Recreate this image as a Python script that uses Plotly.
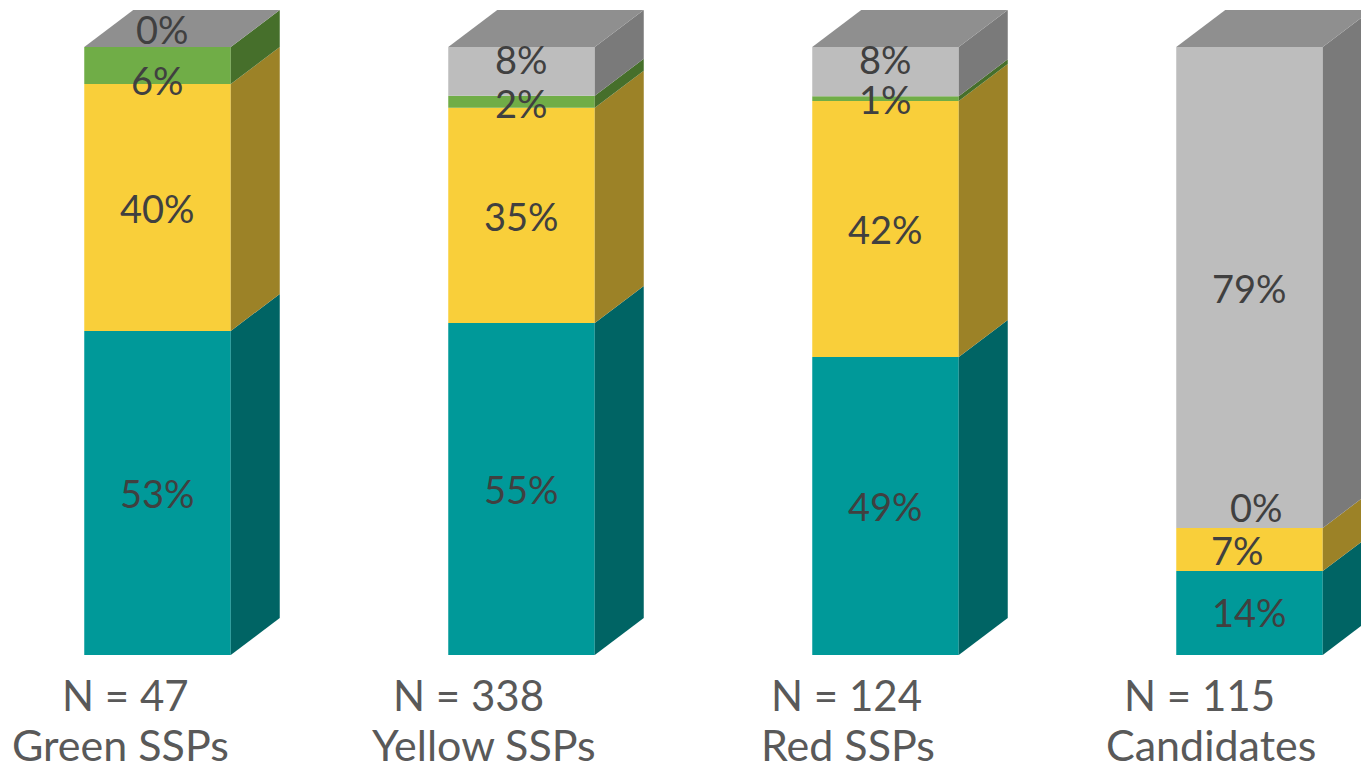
import plotly.graph_objects as go

# ---- data ----
groups = ["Green SSPs", "Yellow SSPs", "Red SSPs", "Candidates"]
n_labels = ["N = 47", "N = 338", "N = 124", "N = 115"]
teal = [53.3, 54.6, 49.0, 13.8]
yellow = [40.6, 35.4, 42.1, 7.1]
green = [6.1, 2.0, 0.8, 0.0]
gray = [0.0, 8.0, 8.1, 79.1]
teal_txt = ["53%", "55%", "49%", "14%"]
yellow_txt = ["40%", "35%", "42%", "7%"]
green_txt = ["6%", "2%", "1%", "0%"]
gray_txt = ["0%", "8%", "8%", "79%"]

# ---- layout helpers (page pixels to axis units) ----
W, H = 1361, 763
X0_PX, X_STEP = 157.5, 364
Y0_PX, Y_UNIT = 655, 6.08
BAR_PX = 146.5
DX_PX, DY_PX = 49, 37
def ax(px): return (px - X0_PX) / X_STEP
def ay(py): return (Y0_PX - py) / Y_UNIT
bw = BAR_PX / X_STEP
dx = DX_PX / X_STEP
dy = DY_PX / Y_UNIT

series = [
    ("Teal", teal, "#009999", "#006464", teal_txt),
    ("Yellow", yellow, "#F9CF3A", "#9C8227", yellow_txt),
    ("Green", green, "#70AD47", "#466F2B", green_txt),
    ("Gray", gray, "#BDBDBD", "#7A7A7A", gray_txt),
]
top_color = "#8F8F8F"
xs = list(range(len(groups)))

fig = go.Figure()
bottoms = [0.0] * len(groups)
for name, vals, front, side, _ in series:
    fig.add_trace(go.Bar(x=xs, y=vals, base=bottoms, width=bw, name=name,
                         marker=dict(color=front, line=dict(width=0)),
                         hoverinfo="skip", showlegend=False))
    for i, v in enumerate(vals):
        if v <= 0:
            continue
        r = i + bw / 2
        b = bottoms[i]
        fig.add_trace(go.Scatter(
            x=[r, r + dx, r + dx, r, r], y=[b, b + dy, b + v + dy, b + v, b],
            mode="lines", fill="toself", fillcolor=side, line=dict(width=0),
            hoverinfo="skip", showlegend=False))
    bottoms = [b + v for b, v in zip(bottoms, vals)]
for i, t in enumerate(bottoms):
    l, r = i - bw / 2, i + bw / 2
    fig.add_trace(go.Scatter(
        x=[l, r, r + dx, l + dx, l], y=[t, t, t + dy, t + dy, t],
        mode="lines", fill="toself", fillcolor=top_color, line=dict(width=0),
        hoverinfo="skip", showlegend=False))

# value label centres on the page, same order as series
label_px = {
    "Teal": [(157, 493), (521, 489), (885, 506), (1249, 612)],
    "Yellow": [(157, 208), (521, 216), (885, 229), (1237, 550)],
    "Green": [(157, 80), (521, 103), (885, 99), (1256, 507)],
    "Gray": [(162, 29), (521, 59), (885, 59), (1249, 288)],
}
ann = []
for name, _, _, _, txts in series:
    for (px, py), t in zip(label_px[name], txts):
        ann.append(dict(x=ax(px), y=ay(py), text=t, showarrow=False, xanchor="center",
                        yanchor="middle", font=dict(family="Lato", size=38, color="#404040")))
n_px = [(125, 695), (468, 695), (846, 695), (1199, 695)]
g_px = [(120, 744), (484, 744), (848, 744), (1211, 744)]
for (px, py), t in zip(n_px, n_labels):
    ann.append(dict(x=ax(px), y=ay(py), text=t, showarrow=False, xanchor="center",
                    yanchor="middle", font=dict(family="Lato", size=42, color="#595959")))
for (px, py), t in zip(g_px, groups):
    ann.append(dict(x=ax(px), y=ay(py), text=t, showarrow=False, xanchor="center",
                    yanchor="middle", font=dict(family="Lato", size=43, color="#595959")))

fig.update_layout(
    width=W, height=H, margin=dict(l=0, r=0, t=0, b=0), autosize=False,
    barmode="overlay", showlegend=False,
    paper_bgcolor="white", plot_bgcolor="white", annotations=ann,
    xaxis=dict(range=[ax(0), ax(W)], visible=False, fixedrange=True),
    yaxis=dict(range=[ay(H), ay(0)], visible=False, fixedrange=True),
)
fig.write_html("out.html", config={"displayModeBar": False},
               post_script="document.body.style.margin='0';document.body.style.overflow='hidden';")
